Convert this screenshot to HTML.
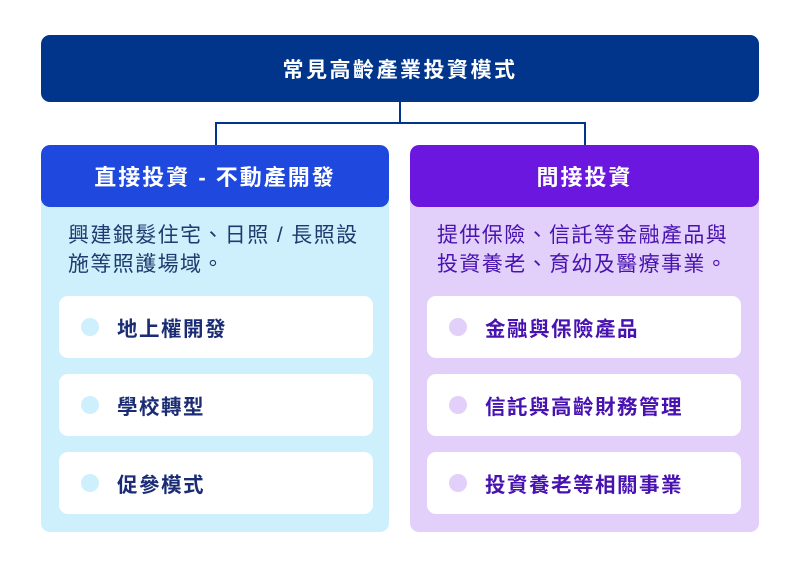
<!DOCTYPE html>
<html><head><meta charset="utf-8"><style>
*{margin:0;padding:0;box-sizing:border-box}
body{width:800px;height:568px;background:#fff;position:relative;font-family:"Liberation Sans","Noto Sans CJK TC",sans-serif;overflow:hidden}
.abs{position:absolute}
.top{left:41px;top:35px;width:718px;height:67px;background:#01358c;border-radius:9px;color:#fff;font-size:21px;font-weight:bold;display:flex;align-items:center;justify-content:center;letter-spacing:2.5px}
.panel{top:145px;height:387px;border-radius:9px;overflow:hidden}
.hd{height:62px;color:#fff;font-size:22px;font-weight:bold;display:flex;align-items:center;justify-content:center;border-radius:9px;letter-spacing:2px}
.desc{position:absolute;left:27px;top:76px;font-size:21px;line-height:29px;letter-spacing:1.4px}
.item{position:absolute;left:18px;width:314px;height:62px;background:#fff;border-radius:9px;font-size:20.5px;font-weight:bold;display:flex;align-items:center;padding-left:58px;letter-spacing:1.5px}
.item::before{content:"";position:absolute;left:22px;top:22px;width:18px;height:18px;border-radius:50%}
.L .item{color:#1b2c74}.L .item::before{background:#cdf0fc}
.R .item{color:#4812b0}.R .item::before{background:#e2cffa}
.line{background:#01358c}
</style></head><body>
<div class="abs top">常見高齡產業投資模式</div>
<div class="abs line" style="left:399px;top:102px;width:2px;height:22px"></div>
<div class="abs line" style="left:215px;top:122px;width:371px;height:2px"></div>
<div class="abs line" style="left:215px;top:122px;width:2px;height:23px"></div>
<div class="abs line" style="left:584px;top:122px;width:2px;height:23px"></div>
<div class="abs panel L" style="left:41px;width:348px;background:#cdf0fc">
<div class="hd" style="background:#1f48de">直接投資 - 不動產開發</div>
<div class="desc" style="color:#1e3a6e">興建銀髮住宅、日照 / 長照設<br>施等照護場域。</div>
<div class="item" style="top:151px">地上權開發</div>
<div class="item" style="top:229px">學校轉型</div>
<div class="item" style="top:307px">促參模式</div>
</div>
<div class="abs panel R" style="left:410px;width:349px;background:#e2cffa">
<div class="hd" style="background:#6c17df">間接投資</div>
<div class="desc" style="color:#4812b0">提供保險、信託等金融產品與<br>投資養老、育幼及醫療事業。</div>
<div class="item" style="top:151px;left:17px">金融與保險產品</div>
<div class="item" style="top:229px;left:17px">信託與高齡財務管理</div>
<div class="item" style="top:307px;left:17px">投資養老等相關事業</div>
</div>
</body></html>
